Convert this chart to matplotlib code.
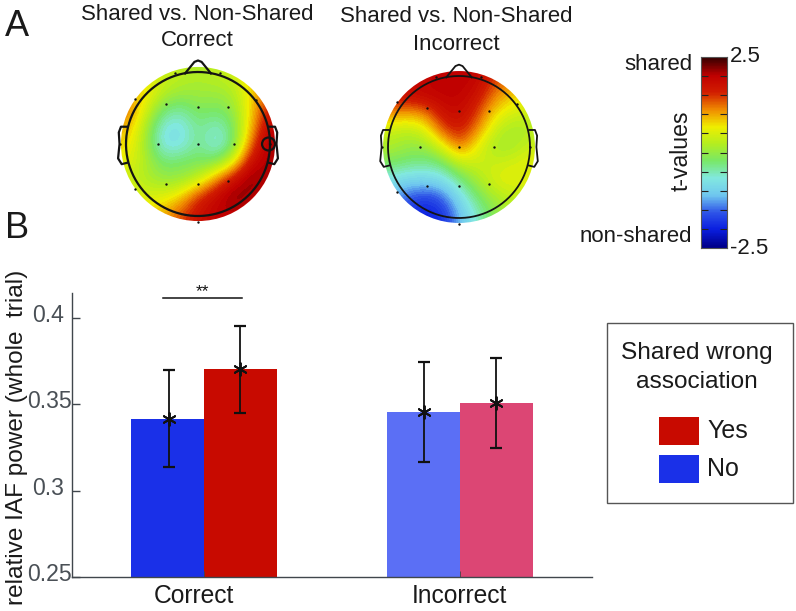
import numpy as np
import matplotlib
matplotlib.use('Agg')
import matplotlib.pyplot as plt
from matplotlib.colors import LinearSegmentedColormap
from matplotlib.patches import Circle, Rectangle
from matplotlib.transforms import ScaledTranslation

plt.rcParams['font.family'] = ['Liberation Sans', 'DejaVu Sans']

W, H = 796, 611

# bar data
groups = ['Correct', 'Incorrect']
bar_values = [0.3415, 0.3704, 0.3453, 0.351]
err_low = [0.3137, 0.3451, 0.3166, 0.3247]
err_high = [0.3697, 0.3955, 0.3743, 0.377]
bar_colors = ['#1a30e8', '#c80a00', '#5b6ff5', '#dc4674']
y_ticks = [0.25, 0.3, 0.35, 0.4]
y_labels = ['0.25', '0.3', '0.35', '0.4']

# t-values read on a coarse grid over each head, top row first
topo_correct = [
    [0.5, 0.5, 0.4, 0.3, 0.2, 0.3, 0.4, 0.9, 1.2],
    [1.0, 0.8, 0.3, 0.1, 0.1, 0.1, 0.2, 0.8, 1.3],
    [1.3, 0.5, -0.2, -0.4, -0.1, -0.2, 0.0, 0.8, 1.7],
    [1.0, 0.2, -0.7, -0.8, -0.3, -0.6, -0.2, 0.9, 2.0],
    [0.8, 0.1, -0.8, -0.8, -0.3, -0.8, -0.3, 1.3, 2.2],
    [0.6, 0.2, -0.3, -0.2, -0.2, -0.2, 0.5, 1.9, 2.1],
    [0.4, 0.2, 0.0, 0.0, 0.3, 1.1, 1.8, 2.3, 2.0],
    [0.5, 0.5, 0.5, 0.8, 1.5, 1.9, 2.3, 2.1, 1.8],
    [0.7, 0.8, 1.0, 1.4, 1.8, 2.0, 2.0, 1.8, 1.6],
]
topo_incorrect = [
    [1.7, 1.8, 1.9, 2.0, 2.0, 2.0, 1.5, 1.2, 0.9],
    [1.8, 1.9, 2.0, 2.0, 2.0, 1.8, 1.2, 0.9, 0.7],
    [1.2, 1.1, 1.2, 1.8, 1.9, 1.5, 0.8, 0.5, 0.4],
    [0.4, 0.3, 0.5, 1.4, 1.7, 1.2, 0.4, 0.1, 0.2],
    [0.2, 0.0, 0.0, 0.5, 1.3, 0.6, 0.1, 0.1, 0.4],
    [-0.2, -0.3, -0.4, -0.3, 0.3, 0.4, 0.4, 0.5, 0.6],
    [-0.8, -1.0, -1.0, -0.9, -0.4, 0.1, 0.5, 0.6, 0.5],
    [-1.2, -1.6, -1.8, -1.6, -0.9, -0.3, 0.1, 0.3, 0.3],
    [-1.4, -1.8, -2.1, -1.9, -1.2, -0.6, -0.1, 0.1, 0.2],
]

# electrode positions, unit = head radius
elec_x = [-0.45, 0.0, 0.42, -0.55, 0.0, 0.5, -0.45, 0.0, 0.42,
          -0.87, 0.81, -0.32, 0.31, -0.87, -1.08, 0.0, 1.0]
elec_y = [0.55, 0.51, 0.51, 0.0, 0.0, 0.0, -0.55, -0.55, -0.52,
          0.63, 0.61, 0.98, 0.98, -0.63, 0.0, -1.08, 0.0]

cbar_colors = ['#00008c', '#0a1ee0', '#2f55e8', '#70c8f0', '#82e8e0', '#78e868',
               '#b4ee20', '#f0ee00', '#f08c00', '#d21e00', '#c00000', '#3c0000']
cmap = LinearSegmentedColormap.from_list('topo', cbar_colors, N=64)

TXT = '#1a1a1a'

fig = plt.figure(figsize=(W / 100, H / 100), dpi=100)


def px_axes(x0, y0, x1, y1):
    return fig.add_axes([x0 / W, 1 - y1 / H, (x1 - x0) / W, (y1 - y0) / H])


def label(x, y, s, size, **kw):
    kw.setdefault('ha', 'center')
    kw.setdefault('color', TXT)
    fig.text(x / W, 1 - y / H, s, va='center', fontsize=size, **kw)


def draw_head(cx, cy, radius, grid, lw=1.6):
    ax = px_axes(cx - 92, cy - 92, cx + 92, cy + 92)
    ax.set_xlim(-92 / radius, 92 / radius)
    ax.set_ylim(-92 / radius, 92 / radius)
    ax.axis('off')
    im = ax.imshow(grid, cmap=cmap, vmin=-2.5, vmax=2.5, extent=[-1.1, 1.1, -1.1, 1.1],
                   interpolation='bicubic', origin='upper')
    im.set_clip_path(Circle((0, 0), 1.07, transform=ax.transData))
    theta = np.linspace(0, 2 * np.pi, 200)
    ax.plot(np.cos(theta), np.sin(theta), color='#141414', lw=lw)
    # nose and ears
    ax.plot([-0.18, -0.05, 0.0, 0.05, 0.18], [0.98, 1.14, 1.16, 1.14, 0.98], color='#141414', lw=lw)
    for s in (-1, 1):
        ax.plot([s * 0.99, s * 1.07, s * 1.1, s * 1.09, s * 1.11, s * 1.06, s * 0.98],
                [0.24, 0.24, 0.16, 0.0, -0.2, -0.28, -0.26], color='#141414', lw=lw)
    ax.scatter(elec_x, elec_y, s=3, color='#111111', zorder=5, linewidths=0)
    return ax


ax_h1 = draw_head(198, 144, 72, topo_correct)
ax_h1.add_patch(Circle((0.98, 0.0), 0.09, fill=False, ec='#141414', lw=1.6))
draw_head(459, 147, 71, topo_incorrect, lw=1.3)

# labels over the heads
label(197, 14, 'Shared vs. Non-Shared', 16)
label(197, 41, 'Correct', 16)
label(456, 17, 'Shared vs. Non-Shared', 16)
label(456, 44, 'Incorrect', 16)
label(5, 26, 'A', 26, ha='left')
label(5, 229, 'B', 26, ha='left')

# colorbar
ax_cb = px_axes(701, 57, 727, 248)
ax_cb.imshow(np.linspace(2.5, -2.5, 64)[:, None], cmap=cmap, vmin=-2.5, vmax=2.5, aspect='auto',
             extent=[0, 1, -2.5, 2.5])
ax_cb.set_xticks([])
ax_cb.yaxis.tick_right()
ax_cb.set_yticks(np.linspace(-2.5, 2.5, 11)[1:-1])
ax_cb.tick_params(axis='y', direction='in', length=5, width=0.8, color='#222222', labelright=False, left=True)
for sp in ax_cb.spines.values():
    sp.set_color('#555555')
    sp.set_linewidth(0.8)
label(730, 56, '2.5', 16, ha='left')
label(730, 249, '-2.5', 16, ha='left')
label(692, 65, 'shared', 16, ha='right')
label(692, 237, 'non-shared', 16, ha='right')
label(681, 151, 't-values', 16.6, rotation=90)

# bar chart, axis limits fitted to the pixel span of the axes
ax = px_axes(72, 293, 592, 577)
ax.set_xlim(72, 592)
ax.set_ylim(0.25, 0.4144)
bar_x = [167.5, 240.5, 423.5, 496.5]
err_x = [168.5, 240, 424, 495.7]
ax.bar(bar_x, np.array(bar_values) - 0.25, bottom=0.25, width=73, color=bar_colors)
ax.errorbar(err_x, bar_values,
            yerr=[np.array(bar_values) - np.array(err_low), np.array(err_high) - np.array(bar_values)],
            fmt='none', ecolor='#111111', elinewidth=1.3, capsize=4, capthick=1.6, zorder=4)
ax.scatter(err_x, bar_values, marker=(6, 2, 0), s=85, color='#111111', linewidths=1.4, zorder=5)
for side in ('top', 'right'):
    ax.spines[side].set_visible(False)
for side in ('left', 'bottom'):
    ax.spines[side].set_color('#40464c')
    ax.spines[side].set_linewidth(1.0)
ax.set_xticks([194, 459])
ax.set_xticklabels(groups, fontsize=17.7, color=TXT)
ax.tick_params(axis='x', length=0, pad=5)
ax.set_xticks([204, 460], minor=True)
ax.tick_params(axis='x', which='minor', direction='in', length=4, color='#40464c')
ax.set_yticks(y_ticks)
ax.set_yticklabels(y_labels, fontsize=16.6, color='#4a5056')
ax.tick_params(axis='y', direction='in', length=6, color='#40464c', width=1, pad=0)
# the short labels sit further from the axis than the long ones
for tl, txt in zip(ax.get_yticklabels(), y_labels):
    dx = -8 if len(txt) == 3 else 0
    tl.set_transform(tl.get_transform() + ScaledTranslation(dx / 100, 5 / 100, fig.dpi_scale_trans))
label(17, 437, 'relative IAF power (whole  trial)', 17.6, rotation=90)

# significance bracket
fig.add_artist(plt.Line2D([163 / W, 242 / W], [1 - 298 / H, 1 - 298 / H], color='#111111', lw=1.1))
label(202, 292, '**', 12.5, color='#111111')

# legend box
fig.add_artist(Rectangle((607 / W, 1 - 503 / H), 186 / W, 180 / H, transform=fig.transFigure,
                         fill=False, ec='#555555', lw=1.0))
label(697, 353, 'Shared wrong', 17.6)
label(697, 382, 'association', 17.6)
fig.add_artist(Rectangle((659 / W, 1 - 445 / H), 40 / W, 28 / H, transform=fig.transFigure, fc='#c80a00', ec='none'))
fig.add_artist(Rectangle((659 / W, 1 - 483 / H), 40 / W, 28 / H, transform=fig.transFigure, fc='#1a30e8', ec='none'))
label(707, 431, 'Yes', 18, ha='left')
label(707, 469, 'No', 18, ha='left')

fig.savefig('out.png', dpi=100)
